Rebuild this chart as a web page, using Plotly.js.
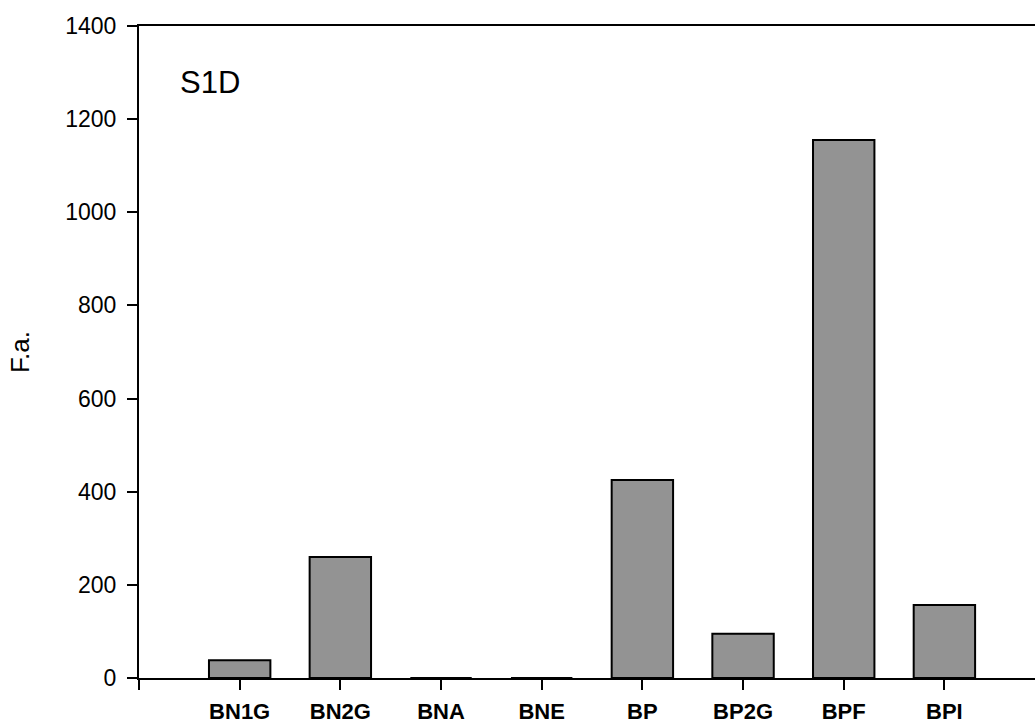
<!DOCTYPE html>
<html>
<head>
<meta charset="utf-8">
<script src="https://cdn.plot.ly/plotly-3.0.1.min.js"></script>
<style>
html,body{margin:0;padding:0;background:#fff;}
#chart{width:1035px;height:727px;}
</style>
</head>
<body>
<div id="chart"></div>
<script>
const categories = ['BN1G','BN2G','BNA','BNE','BP','BP2G','BPF','BPI'];
const values = [38, 260, 0, 0, 425, 95, 1155, 157];
const yTicks = [0, 200, 400, 600, 800, 1000, 1200, 1400];
const panelLabel = 'S1D';
const yLabel = 'F.a.';

const xIdx = categories.map((c, i) => i);
const tickvals = [-1].concat(xIdx);
const ticktext = [''].concat(categories);

const trace = {
  type: 'bar',
  x: xIdx,
  y: values,
  width: 0.61,
  marker: {color: '#939393', line: {color: '#000', width: 2}},
  hoverinfo: 'x+y',
  text: categories,
  textposition: 'none'
};

const layout = {
  width: 1035, height: 727,
  margin: {l: 139, r: 0, t: 26, b: 49, pad: 0},
  paper_bgcolor: '#fff', plot_bgcolor: '#fff',
  showlegend: false,
  font: {family: 'Liberation Sans, Arial, sans-serif', color: '#000'},
  xaxis: {
    range: [-1, 7.9],
    tickvals: tickvals, ticktext: ticktext,
    showgrid: false, zeroline: false,
    showline: true, linecolor: '#000', linewidth: 2, mirror: true,
    ticks: 'outside', ticklen: 10, tickwidth: 2, tickcolor: '#000',
    ticklabelstandoff: 3,
    tickfont: {size: 22, family: 'Liberation Sans, Arial, sans-serif', weight: 'bold'},
    fixedrange: true
  },
  yaxis: {
    range: [0, 1400],
    tickvals: yTicks,
    ticktext: yTicks.map(String),
    showgrid: false, zeroline: false,
    showline: true, linecolor: '#000', linewidth: 2,
    ticks: 'outside', ticklen: 10, tickwidth: 2, tickcolor: '#000',
    ticklabelstandoff: 6,
    tickfont: {size: 23},
    title: {text: yLabel, font: {size: 26}, standoff: 28},
    fixedrange: true
  },
  annotations: [{
    text: panelLabel, x: -0.29, y: 1278, xref: 'x', yref: 'y',
    showarrow: false, font: {size: 31}, xanchor: 'center', yanchor: 'middle'
  }]
};

Plotly.newPlot('chart', [trace], layout, {displayModeBar: false, staticPlot: true});
</script>
</body>
</html>
